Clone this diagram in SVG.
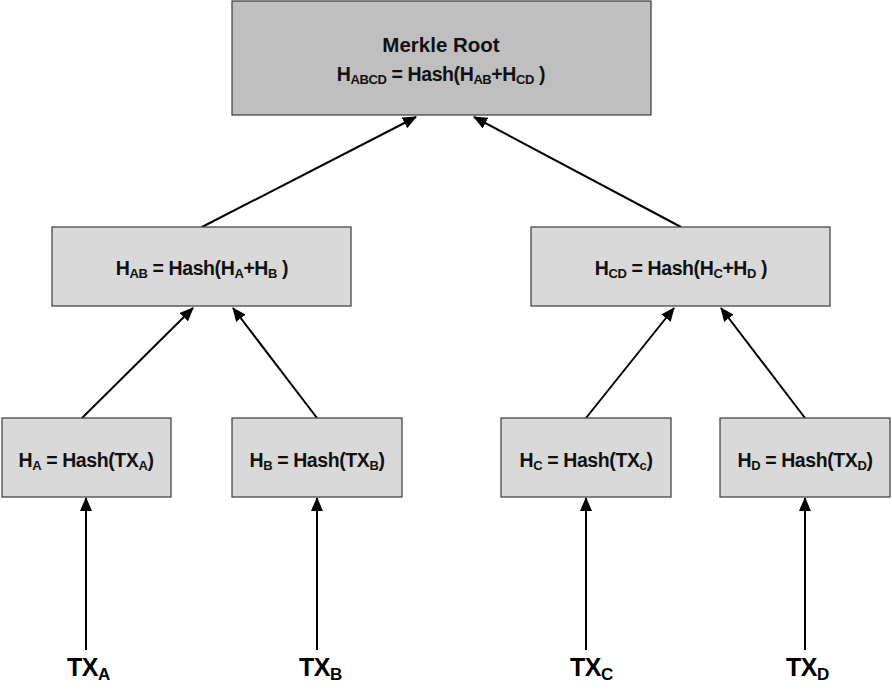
<svg xmlns="http://www.w3.org/2000/svg" width="892" height="699" viewBox="0 0 892 699">
<style>
.box{fill:#d9d9d9;stroke:#3a3a3a;stroke-width:1.2}
.root{fill:#bfbfbf;stroke:#3a3a3a;stroke-width:1.2}
.t{font-family:"Liberation Sans",Arial,sans-serif;font-weight:bold;font-size:19.5px;letter-spacing:-0.4px;fill:#111;text-anchor:middle}
.mr{font-size:20.5px;letter-spacing:0}
.tx{font-family:"Liberation Sans",Arial,sans-serif;font-weight:bold;font-size:25px;letter-spacing:-0.5px;fill:#000}
.s{font-size:13px}
.s2{font-size:17px}
.e{stroke:#000;stroke-width:2;fill:none;marker-end:url(#ah)}
</style>
<defs>
<marker id="ah" markerUnits="userSpaceOnUse" markerWidth="14" markerHeight="12" refX="13" refY="6" orient="auto">
<path d="M0,0 L14,6 L0,12 Z" fill="#000"/>
</marker>
</defs>
<rect width="892" height="699" fill="#fff"/>
<g id="edges">
<line class="e" x1="202" y1="227" x2="416" y2="117"/>
<line class="e" x1="681" y1="227" x2="474" y2="117"/>
<line class="e" x1="82" y1="418" x2="193" y2="308"/>
<line class="e" x1="317" y1="418" x2="233" y2="308"/>
<line class="e" x1="586" y1="418" x2="674" y2="308"/>
<line class="e" x1="805" y1="418" x2="721" y2="308"/>
<line class="e" x1="86" y1="650" x2="86" y2="498"/>
<line class="e" x1="317" y1="650" x2="317" y2="498"/>
<line class="e" x1="586" y1="650" x2="586" y2="498"/>
<line class="e" x1="805" y1="650" x2="805" y2="498"/>
</g>
<g id="root">
<rect class="root" x="232" y="1" width="419" height="114"/>
<text class="t mr" x="441" y="52">Merkle Root</text>
<text class="t" x="441" y="81">H<tspan class="s" dy="3">ABCD</tspan><tspan dy="-3"> = Hash(H</tspan><tspan class="s" dy="3">AB</tspan><tspan dy="-3">+H</tspan><tspan class="s" dy="3">CD</tspan><tspan dy="-3"> )</tspan></text>
</g>
<g id="hab">
<rect class="box" x="52" y="227" width="299" height="79"/>
<text class="t" x="202" y="275">H<tspan class="s" dy="3">AB</tspan><tspan dy="-3"> = Hash(H</tspan><tspan class="s" dy="3">A</tspan><tspan dy="-3">+H</tspan><tspan class="s" dy="3">B</tspan><tspan dy="-3"> )</tspan></text>
</g>
<g id="hcd">
<rect class="box" x="531" y="227" width="299" height="79"/>
<text class="t" x="681" y="275">H<tspan class="s" dy="3">CD</tspan><tspan dy="-3"> = Hash(H</tspan><tspan class="s" dy="3">C</tspan><tspan dy="-3">+H</tspan><tspan class="s" dy="3">D</tspan><tspan dy="-3"> )</tspan></text>
</g>
<g id="ha">
<rect class="box" x="2" y="418" width="169" height="79"/>
<text class="t" x="86" y="467">H<tspan class="s" dy="3">A</tspan><tspan dy="-3"> = Hash(TX</tspan><tspan class="s" dy="3">A</tspan><tspan dy="-3">)</tspan></text>
</g>
<g id="hb">
<rect class="box" x="232" y="418" width="170" height="79"/>
<text class="t" x="317" y="467">H<tspan class="s" dy="3">B</tspan><tspan dy="-3"> = Hash(TX</tspan><tspan class="s" dy="3">B</tspan><tspan dy="-3">)</tspan></text>
</g>
<g id="hc">
<rect class="box" x="501" y="418" width="170" height="79"/>
<text class="t" x="586" y="467">H<tspan class="s" dy="3">C</tspan><tspan dy="-3"> = Hash(TX</tspan><tspan class="s" dy="3">c</tspan><tspan dy="-3">)</tspan></text>
</g>
<g id="hd">
<rect class="box" x="720" y="418" width="170" height="79"/>
<text class="t" x="805" y="467">H<tspan class="s" dy="3">D</tspan><tspan dy="-3"> = Hash(TX</tspan><tspan class="s" dy="3">D</tspan><tspan dy="-3">)</tspan></text>
</g>
<g id="txa"><text class="tx" x="67" y="676">TX<tspan class="s2" dy="4">A</tspan></text></g>
<g id="txb"><text class="tx" x="299" y="676">TX<tspan class="s2" dy="4">B</tspan></text></g>
<g id="txc"><text class="tx" x="570" y="676">TX<tspan class="s2" dy="4">C</tspan></text></g>
<g id="txd"><text class="tx" x="786" y="676">TX<tspan class="s2" dy="4">D</tspan></text></g>
</svg>
